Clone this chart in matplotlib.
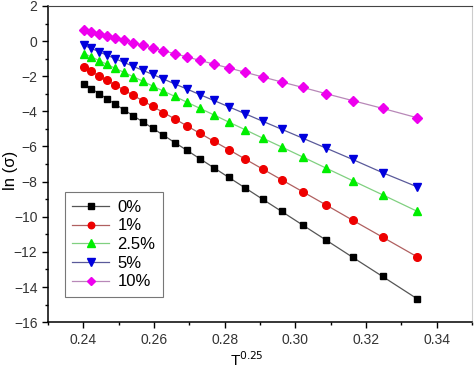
import matplotlib.pyplot as plt
from matplotlib.ticker import MultipleLocator

plt.rcParams["font.family"] = ["Liberation Sans", "DejaVu Sans"]

# T^-0.25 for 300 K down to 80 K
x_vals = [0.24028, 0.24232, 0.24446, 0.24670, 0.24904, 0.25149, 0.25406,
          0.25679, 0.25965, 0.26269, 0.26591, 0.26935, 0.27301, 0.27694,
          0.28117, 0.28574, 0.29072, 0.29615, 0.30213, 0.30878, 0.31623,
          0.32467, 0.33437]

ln_0 = [-2.45, -2.71, -2.99, -3.28, -3.59, -3.91, -4.24, -4.59, -4.96, -5.36,
        -5.78, -6.22, -6.70, -7.21, -7.76, -8.35, -9.00, -9.70, -10.48,
        -11.34, -12.31, -13.40, -14.66]
ln_1 = [-1.50, -1.73, -1.98, -2.24, -2.50, -2.78, -3.08, -3.39, -3.72, -4.07,
        -4.43, -4.83, -5.25, -5.70, -6.18, -6.71, -7.28, -7.90, -8.58, -9.34,
        -10.20, -11.16, -12.27]
ln_25 = [-0.71, -0.90, -1.11, -1.32, -1.55, -1.78, -2.02, -2.28, -2.56, -2.85,
         -3.15, -3.48, -3.83, -4.20, -4.61, -5.04, -5.52, -6.03, -6.60, -7.24,
         -7.95, -8.75, -9.68]
ln_5 = [-0.25, -0.42, -0.61, -0.80, -1.00, -1.21, -1.43, -1.66, -1.90, -2.16,
        -2.44, -2.73, -3.05, -3.38, -3.74, -4.13, -4.56, -5.02, -5.53, -6.10,
        -6.74, -7.49, -8.29]
ln_10 = [0.64, 0.53, 0.42, 0.30, 0.17, 0.04, -0.09, -0.24, -0.39, -0.55,
         -0.72, -0.90, -1.10, -1.31, -1.53, -1.77, -2.04, -2.33, -2.64, -3.00,
         -3.39, -3.83, -4.36]

labels = ["0%", "1%", "2.5%", "5%", "10%"]

fig = plt.figure(figsize=(4.74, 3.72), dpi=100)
ax = fig.add_axes([0.101, 0.134, 0.895, 0.850])

styles = [
    (ln_0, "s", "#000000", "#555555", 5),
    (ln_1, "o", "#ee0000", "#b06060", 5.5),
    (ln_25, "^", "#00ee00", "#80d080", 6),
    (ln_5, "v", "#0000dd", "#5a5a9a", 6),
    (ln_10, "D", "#ee00ee", "#b888b8", 5),
]
for (y, marker, mcol, lcol, ms), lab in zip(styles, labels):
    ax.plot(x_vals, y, color=lcol, linewidth=0.9, marker=marker,
            markersize=ms, markerfacecolor=mcol, markeredgecolor=mcol,
            label=lab)

ax.set_xlim(0.23, 0.35)
ax.set_ylim(-16, 2)
ax.xaxis.set_minor_locator(MultipleLocator(0.01))
ax.yaxis.set_major_locator(MultipleLocator(2))
ax.yaxis.set_minor_locator(MultipleLocator(1))
ax.set_xticks([0.24, 0.26, 0.28, 0.30, 0.32, 0.34])
ax.set_xticklabels(["0.24", "0.26", "0.28", "0.30", "0.32", "0.34"])

ax.tick_params(which="both", direction="out", labelsize=10,
               labelcolor="#333333", top=False, right=False)
ax.tick_params(which="major", length=4, width=1)
ax.tick_params(which="minor", length=2.5, width=1)

ax.spines["left"].set_linewidth(1.1)
ax.spines["bottom"].set_linewidth(1.1)
ax.spines["top"].set_color("#444444")
ax.spines["right"].set_color("#cccccc")

ax.set_ylabel("ln (σ)", fontsize=12)
ax.yaxis.set_label_coords(-0.07, 0.48)
ax.set_xlabel("T$^{0.25}$", fontsize=11)
ax.xaxis.set_label_coords(0.47, -0.09)

leg = ax.legend(loc="upper left", bbox_to_anchor=(0.04, 0.411),
                borderaxespad=0, fontsize=12, fancybox=False,
                edgecolor="#777777", handlelength=2.2, borderpad=0.45,
                labelspacing=0.22, handletextpad=0.5, framealpha=1,
                markerscale=0.85)
leg.get_frame().set_linewidth(0.8)

fig.savefig("out.png", dpi=100)
